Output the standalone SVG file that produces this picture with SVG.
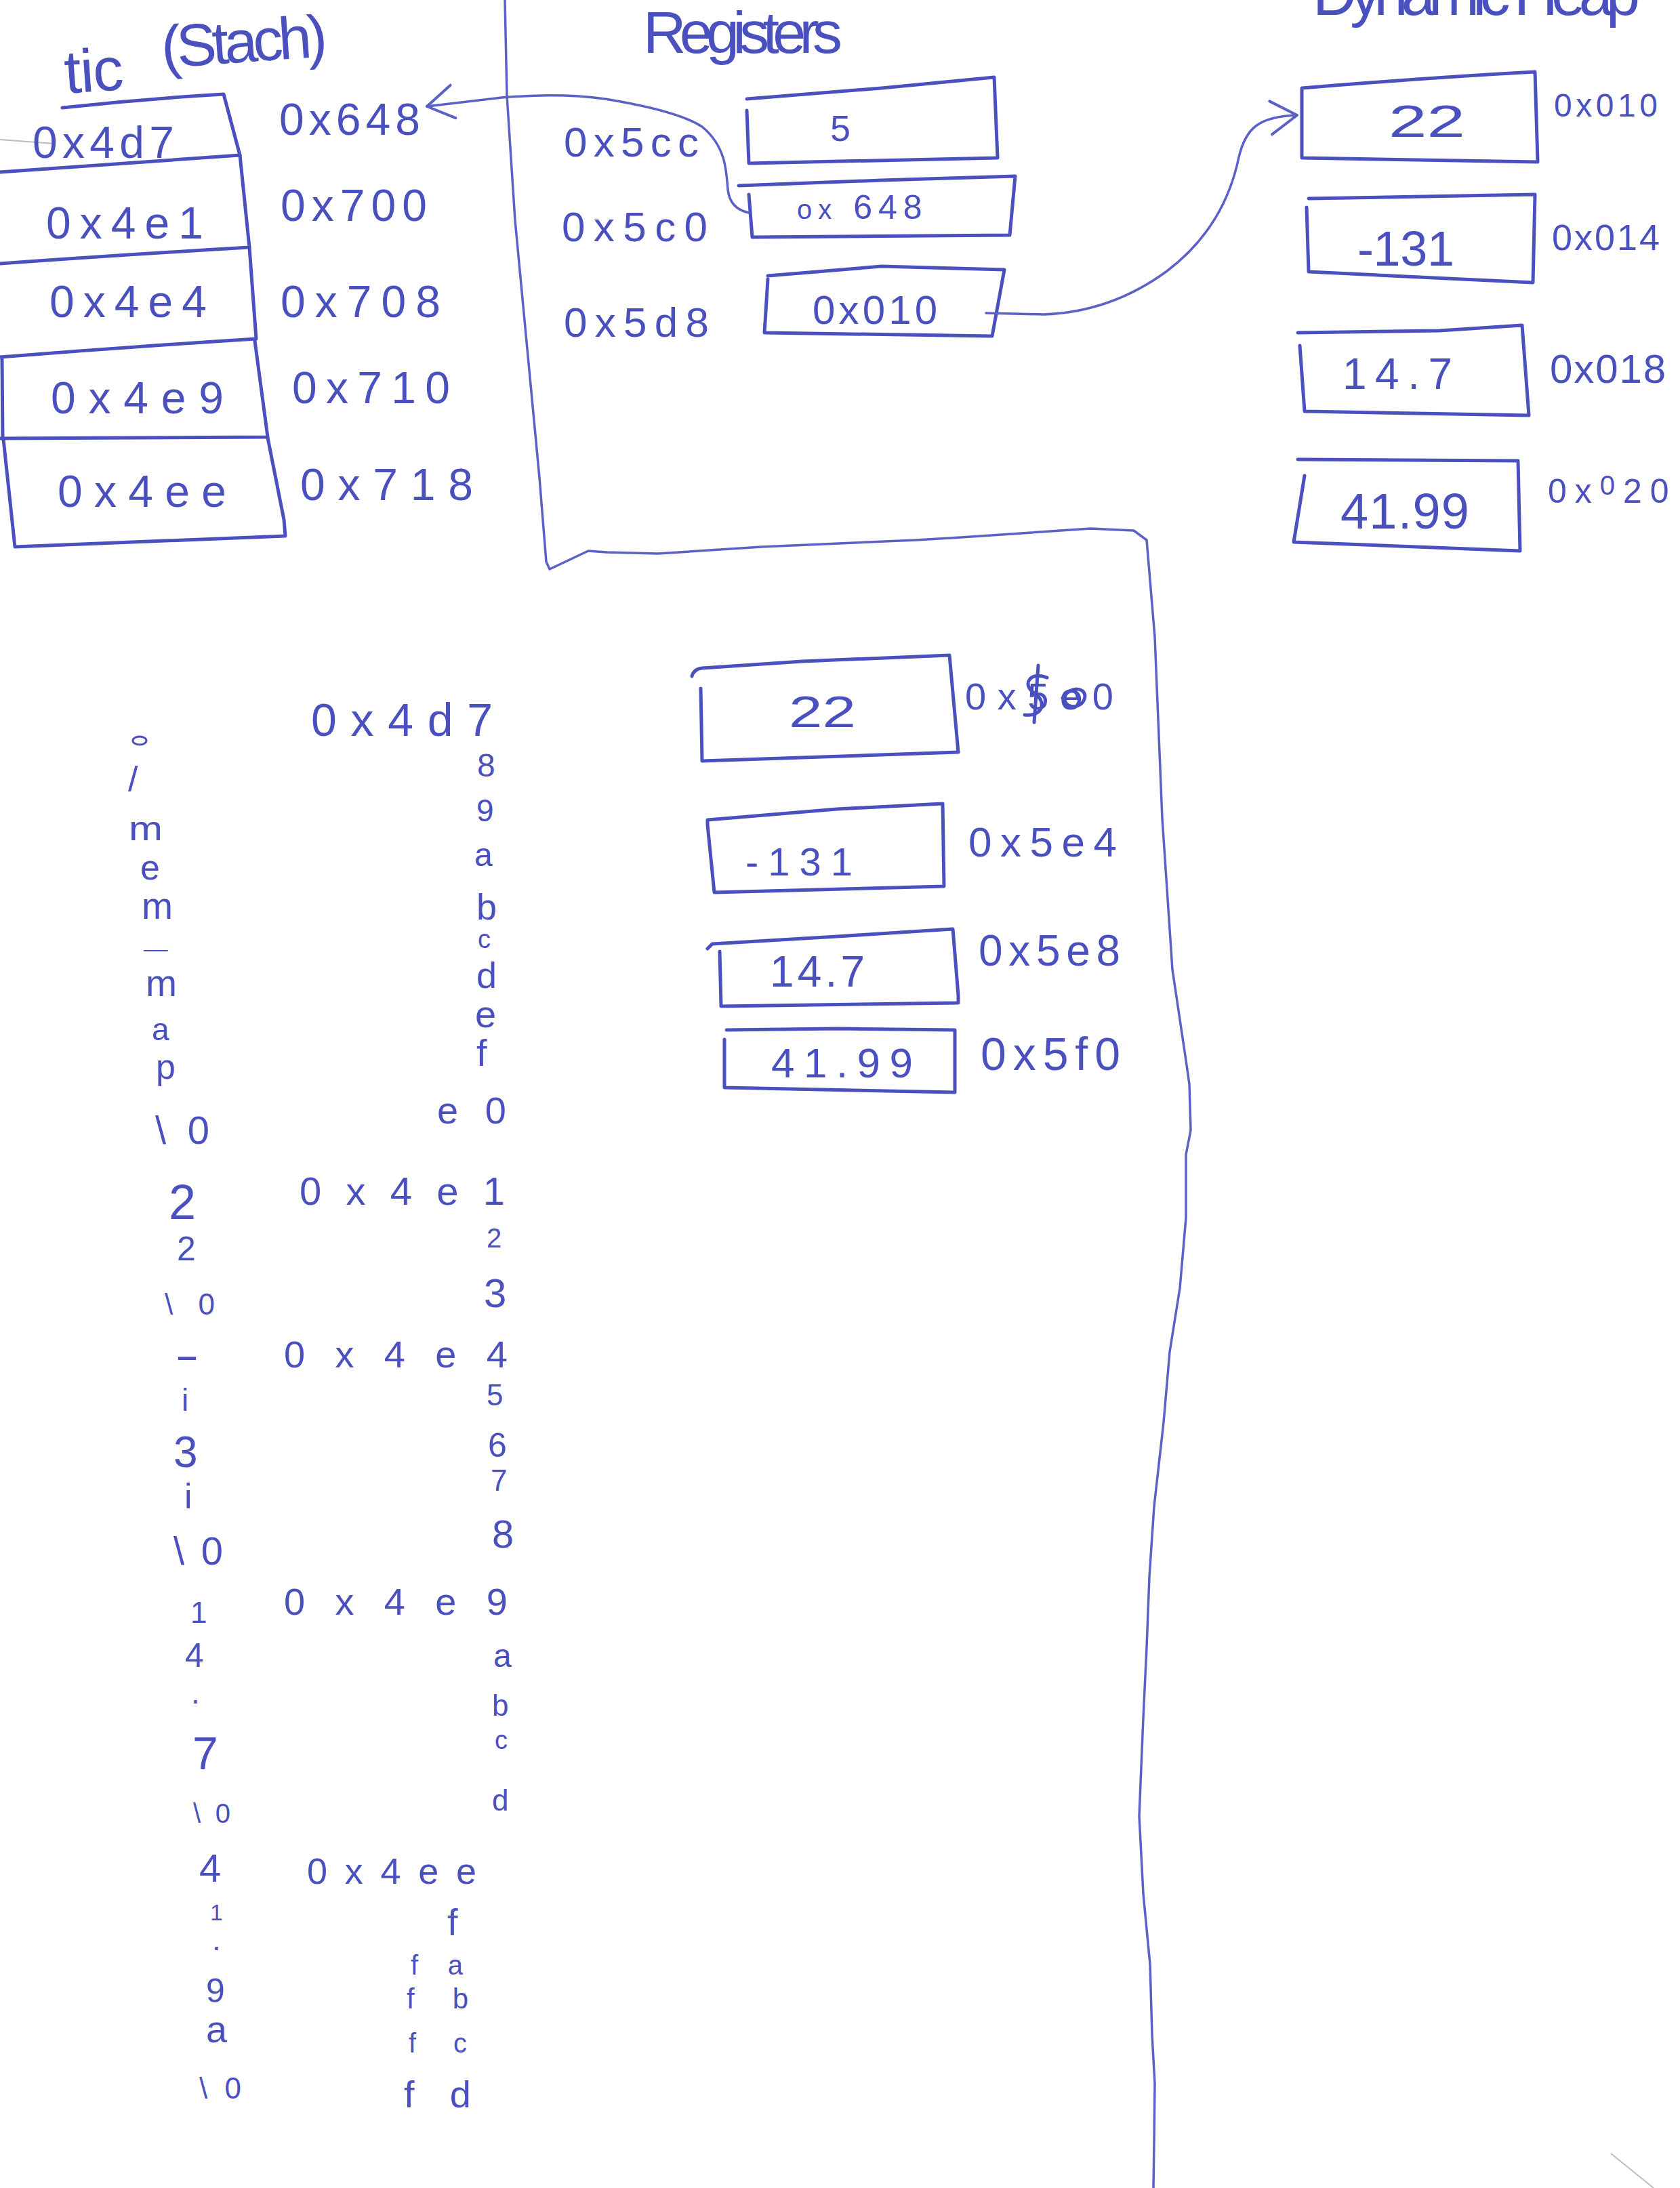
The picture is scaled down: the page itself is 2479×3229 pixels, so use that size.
<svg xmlns="http://www.w3.org/2000/svg" width="2479" height="3229" viewBox="0 0 2479 3229">
<style>
  .pen{fill:none;stroke:#4a50be;stroke-width:5;stroke-linejoin:round;stroke-linecap:round}
  .edge{fill:none;stroke:#5b61c6;stroke-width:3.5;stroke-linejoin:round;stroke-linecap:round}
  .wire{fill:none;stroke:#5b61c6;stroke-width:3.5;stroke-linejoin:round;stroke-linecap:round}
  .t{font-family:"Liberation Sans",Arial,sans-serif;fill:#4a50be}
  .ghost{fill:none;stroke:#bdbdbd;stroke-width:2}
</style>
<defs>
  <marker id="chev" markerUnits="userSpaceOnUse" viewBox="-50 -35 60 70" markerWidth="60" markerHeight="70" refX="0" refY="0" orient="auto">
    <path d="M-40,-22 L0,0 L-38,27" fill="none" stroke="#5b61c6" stroke-width="4" stroke-linecap="round" stroke-linejoin="round"/>
  </marker>
</defs>
<rect width="2479" height="3229" fill="#ffffff"/>

<!-- paper edges -->
<path class="ghost" d="M0,206 L80,212"/>
<path class="ghost" d="M2377,3178 L2440,3229"/>

<!-- section titles -->
<g id="titles">
  <text class="t" x="97" y="138" font-size="90" textLength="87" lengthAdjust="spacing" transform="rotate(-4 97 138)">tic</text>
  <text class="t" x="240" y="100" font-size="88" textLength="245" lengthAdjust="spacing" transform="rotate(-4 240 100)">(Stach)</text>
  <text class="t" x="949" y="78" font-size="88" textLength="294" lengthAdjust="spacing">Registers</text>
  <text class="t" x="1937" y="22" font-size="90" textLength="483" lengthAdjust="spacing">Dynamic Heap</text>
</g>

<!-- region outline around registers / heap copy -->
<g id="region">
  <path class="edge" d="M745,0 L748,141 L760,325 L778,515 L796,705 L806,829 L811,840 L868,813 L895,815 L971,817 L1124,807 L1352,797 L1418,793 L1609,780 L1673,783 L1692,797 L1704,940 L1715,1208 L1730,1431 L1750,1565 L1755,1600 L1757,1668 L1750,1704 L1750,1797 L1741,1901 L1726,1995 L1717,2099 L1703,2223 L1696,2327 L1692,2431 L1687,2535 L1681,2680 L1687,2795 L1697,2899 L1700,3003 L1704,3075 L1703,3158 L1702,3229"/>
</g>

<!-- stack frames -->
<g id="stack-0x648">
  <path class="pen" d="M92,159 Q210,146 330,139 L354,229 Q180,242 0,254"/>
  <text class="t" x="48" y="233" font-size="66" textLength="209" lengthAdjust="spacing">0x4d7</text>
  <text class="t" x="412" y="199" font-size="66" textLength="208" lengthAdjust="spacing">0x648</text>
</g>
<g id="stack-0x700">
  <path class="pen" d="M354,229 L368,365 Q180,376 0,389"/>
  <text class="t" x="68" y="352" font-size="66" textLength="232" lengthAdjust="spacing">0x4e1</text>
  <text class="t" x="414" y="326" font-size="66" textLength="216" lengthAdjust="spacing">0x700</text>
</g>
<g id="stack-0x708">
  <path class="pen" d="M368,365 L378,500 Q190,512 0,527"/>
  <text class="t" x="73" y="468" font-size="66" textLength="232" lengthAdjust="spacing">0x4e4</text>
  <text class="t" x="414" y="468" font-size="66" textLength="236" lengthAdjust="spacing">0x708</text>
</g>
<g id="stack-0x710">
  <path class="pen" d="M3,530 L4,648 M376,503 L395,645 Q200,646 0,647"/>
  <text class="t" x="75" y="610" font-size="66" textLength="255" lengthAdjust="spacing">0x4e9</text>
  <text class="t" x="431" y="595" font-size="66" textLength="233" lengthAdjust="spacing">0x710</text>
</g>
<g id="stack-0x718">
  <path class="pen" d="M5,648 L22,807 L421,791 L419,767 L395,646"/>
  <text class="t" x="85" y="748" font-size="66" textLength="249" lengthAdjust="spacing">0x4ee</text>
  <text class="t" x="443" y="738" font-size="66" textLength="255" lengthAdjust="spacing">0x718</text>
</g>

<!-- registers -->
<g id="reg-0x5cc">
  <path class="pen" d="M1102,146 L1301,130 L1467,114 L1472,233 L1105,241 L1102,163"/>
  <text class="t" x="832" y="231" font-size="62" textLength="199" lengthAdjust="spacing">0x5cc</text>
  <text class="t" x="1225" y="208" font-size="54">5</text>
</g>
<g id="reg-0x5c0">
  <path class="pen" d="M1090,274 L1301,266 L1498,260 L1490,347 L1110,350 L1105,287"/>
  <text class="t" x="829" y="356" font-size="62" textLength="215" lengthAdjust="spacing">0x5c0</text>
  <text class="t" x="1176" y="323" font-size="50" letter-spacing="9"><tspan font-size="40">ox</tspan> 648</text>
</g>
<g id="reg-0x5d8">
  <path class="pen" d="M1133,407 L1301,393 L1482,398 L1464,496 L1128,491 L1133,412"/>
  <text class="t" x="832" y="497" font-size="62" textLength="214" lengthAdjust="spacing">0x5d8</text>
  <text class="t" x="1199" y="478" font-size="60" textLength="184" lengthAdjust="spacing">0x010</text>
</g>

<!-- dynamic heap -->
<g id="heap-0x010">
  <path class="pen" d="M1921,130 Q2100,115 2265,106 L2269,239 L1921,233 Z"/>
  <text class="t" x="2049" y="202" font-size="66" textLength="113" lengthAdjust="spacingAndGlyphs">22</text>
  <text class="t" x="2293" y="172" font-size="48" textLength="153" lengthAdjust="spacing">0x010</text>
</g>
<g id="heap-0x014">
  <path class="pen" d="M1931,293 L2265,287 L2262,417 L1931,401 L1928,306"/>
  <text class="t" x="2003" y="392" font-size="72" textLength="143" lengthAdjust="spacing">-131</text>
  <text class="t" x="2290" y="369" font-size="54" textLength="159" lengthAdjust="spacing">0x014</text>
</g>
<g id="heap-0x018">
  <path class="pen" d="M1915,491 L2124,488 L2246,480 L2256,613 L1925,607 L1918,510"/>
  <text class="t" x="1981" y="574" font-size="64" textLength="162" lengthAdjust="spacing">14.7</text>
  <text class="t" x="2287" y="565" font-size="60" textLength="171" lengthAdjust="spacing">0x018</text>
</g>
<g id="heap-0x020">
  <path class="pen" d="M1915,678 L2240,680 L2243,813 L1909,800 L1925,702"/>
  <text class="t" x="1978" y="780" font-size="74" textLength="190" lengthAdjust="spacing">41.99</text>
  <text class="t" x="2284" y="742" font-size="50" letter-spacing="12">0x<tspan dy="-12" font-size="40">0</tspan><tspan dy="12">20</tspan></text>
</g>

<!-- heap copy below registers -->
<g id="heap-0x5e0">
  <path class="pen" d="M1021,998 Q1024,987 1036,986 L1184,976 L1401,967 L1414,1110 L1036,1123 L1034,1016"/>
  <text class="t" x="1164" y="1073" font-size="64" textLength="99" lengthAdjust="spacingAndGlyphs">22</text>
  <text class="t" x="1424" y="1047" font-size="56" textLength="219" lengthAdjust="spacing">0x5e0</text>
  <path class="pen" stroke-width="4" d="M1532,982 L1526,1066 M1545,1000 C1520,990 1508,1010 1525,1022 C1545,1034 1540,1058 1512,1055 M1568,1030 C1580,1010 1606,1015 1600,1032 C1594,1048 1566,1046 1572,1026 C1580,1012 1600,1024 1590,1040"/>
</g>
<g id="heap-0x5e4">
  <path class="pen" d="M1044,1217 L1044,1210 L1235,1194 L1391,1186 L1393,1308 L1054,1317 L1044,1217"/>
  <text class="t" x="1100" y="1292" font-size="58" textLength="158" lengthAdjust="spacing">-131</text>
  <text class="t" x="1429" y="1264" font-size="62" textLength="219" lengthAdjust="spacing">0x5e4</text>
</g>
<g id="heap-0x5e8">
  <path class="pen" d="M1044,1400 L1051,1393 L1235,1382 L1406,1371 L1414,1469 L1414,1480 L1064,1485 L1062,1404"/>
  <text class="t" x="1136" y="1456" font-size="64" textLength="140" lengthAdjust="spacing">14.7</text>
  <text class="t" x="1444" y="1425" font-size="64" textLength="209" lengthAdjust="spacing">0x5e8</text>
</g>
<g id="heap-0x5f0">
  <path class="pen" d="M1072,1520 L1235,1518 L1409,1520 L1409,1612 L1069,1605 L1069,1534"/>
  <text class="t" x="1138" y="1590" font-size="62" textLength="209" lengthAdjust="spacing">41.99</text>
  <text class="t" x="1447" y="1579" font-size="68" textLength="206" lengthAdjust="spacing">0x5f0</text>
</g>

<!-- pointers -->
<g id="connectors">
  <path class="wire" marker-end="url(#chev)" d="M1105,314 C1086,310 1076,298 1074,280 C1072,250 1070,215 1036,187 C1010,170 960,157 893,146 C850,140 800,139 740,144 L630,157"/>
  <path class="wire" marker-end="url(#chev)" d="M1455,462 L1540,464 C1600,462 1662,444 1722,400 C1788,350 1816,290 1828,232 C1838,190 1856,172 1914,170"/>
</g>

<!-- byte-by-byte memory view -->
<g id="cstring">
  <ellipse cx="206" cy="1093" rx="10" ry="6" fill="none" stroke="#4a50be" stroke-width="3"/>
  <text class="t" x="189" y="1168" font-size="52">/</text>
  <text class="t" x="190" y="1240" font-size="50" textLength="50" lengthAdjust="spacingAndGlyphs">m</text>
  <text class="t" x="207" y="1298" font-size="52">e</text>
  <text class="t" x="209" y="1356" font-size="56" textLength="46" lengthAdjust="spacingAndGlyphs">m</text>
  <text class="t" x="213" y="1398" font-size="30" textLength="34" lengthAdjust="spacingAndGlyphs">_</text>
  <text class="t" x="215" y="1470" font-size="56" textLength="46" lengthAdjust="spacingAndGlyphs">m</text>
  <text class="t" x="224" y="1535" font-size="46">a</text>
  <text class="t" x="230" y="1592" font-size="52">p</text>
  <text class="t" x="229" y="1688" font-size="58" textLength="80" lengthAdjust="spacing">\0</text>
  <text class="t" x="249" y="1799" font-size="72">2</text>
  <text class="t" x="261" y="1860" font-size="50">2</text>
  <text class="t" x="243" y="1940" font-size="44" textLength="74" lengthAdjust="spacing">\0</text>
  <text class="t" x="258" y="2020" font-size="60" textLength="36" lengthAdjust="spacingAndGlyphs">-</text>
  <text class="t" x="268" y="2082" font-size="46">i</text>
  <text class="t" x="256" y="2165" font-size="64">3</text>
  <text class="t" x="272" y="2226" font-size="52">i</text>
  <text class="t" x="256" y="2309" font-size="58" textLength="73" lengthAdjust="spacing">\0</text>
  <text class="t" x="281" y="2395" font-size="44">1</text>
  <text class="t" x="273" y="2460" font-size="50">4</text>
  <text class="t" x="282" y="2514" font-size="46">.</text>
  <text class="t" x="284" y="2611" font-size="68">7</text>
  <text class="t" x="285" y="2690" font-size="40" textLength="55" lengthAdjust="spacing">\0</text>
  <text class="t" x="294" y="2777" font-size="58">4</text>
  <text class="t" x="310" y="2834" font-size="34">1</text>
  <text class="t" x="313" y="2878" font-size="46">.</text>
  <text class="t" x="304" y="2955" font-size="50">9</text>
  <text class="t" x="304" y="3014" font-size="56">a</text>
  <text class="t" x="294" y="3097" font-size="44" textLength="62" lengthAdjust="spacing">\0</text>
</g>

<g id="address-column">
  <text class="t" x="459" y="1086" font-size="68" textLength="268" lengthAdjust="spacing">0x4d7</text>
  <text class="t" x="704" y="1146" font-size="48">8</text>
  <text class="t" x="703" y="1212" font-size="46">9</text>
  <text class="t" x="700" y="1278" font-size="48">a</text>
  <text class="t" x="703" y="1357" font-size="54">b</text>
  <text class="t" x="705" y="1399" font-size="38">c</text>
  <text class="t" x="703" y="1458" font-size="54">d</text>
  <text class="t" x="701" y="1516" font-size="56">e</text>
  <text class="t" x="703" y="1573" font-size="56">f</text>
  <text class="t" x="645" y="1658" font-size="56" textLength="102" lengthAdjust="spacing">e0</text>
  <text class="t" x="442" y="1778" font-size="58" textLength="303" lengthAdjust="spacing">0x4e1</text>
  <text class="t" x="718" y="1841" font-size="40">2</text>
  <text class="t" x="714" y="1929" font-size="60">3</text>
  <text class="t" x="419" y="2018" font-size="56" textLength="330" lengthAdjust="spacing">0x4e4</text>
  <text class="t" x="718" y="2074" font-size="44">5</text>
  <text class="t" x="720" y="2150" font-size="50">6</text>
  <text class="t" x="724" y="2200" font-size="44">7</text>
  <text class="t" x="726" y="2284" font-size="58">8</text>
  <text class="t" x="419" y="2383" font-size="56" textLength="330" lengthAdjust="spacing">0x4e9</text>
  <text class="t" x="728" y="2460" font-size="48">a</text>
  <text class="t" x="726" y="2532" font-size="44">b</text>
  <text class="t" x="730" y="2581" font-size="38">c</text>
  <text class="t" x="726" y="2672" font-size="44">d</text>
  <text class="t" x="453" y="2780" font-size="54" textLength="250" lengthAdjust="spacing">0x4ee</text>
  <text class="t" x="660" y="2856" font-size="56">f</text>
  <text class="t" x="606" y="2914" font-size="40" textLength="77" lengthAdjust="spacing">fa</text>
  <text class="t" x="600" y="2964" font-size="42" textLength="91" lengthAdjust="spacing">fb</text>
  <text class="t" x="603" y="3029" font-size="40" textLength="86" lengthAdjust="spacing">fc</text>
  <text class="t" x="596" y="3110" font-size="56" textLength="99" lengthAdjust="spacing">fd</text>
</g>
</svg>
